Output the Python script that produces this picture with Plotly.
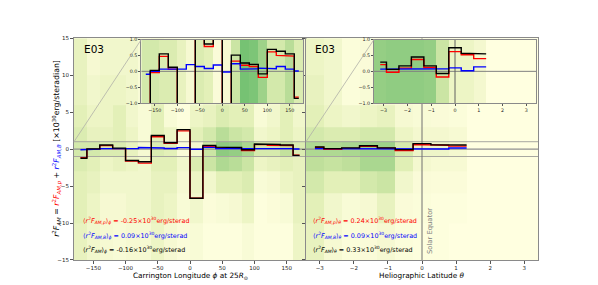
import numpy as np
import plotly.graph_objects as go

W, H = 598, 285

# ---------------- data ----------------
# Carrington longitude bins (centres, degrees)
lon_centers = [-170, -150, -130, -110, -90, -70, -50, -30, -10, 10, 30, 50, 70, 90, 110, 130, 150, 170]
lon_total = [-1.23, 0.03, 0.55, 0.13, -1.54, -1.72, 1.85, 0.86, 2.64, -6.65, 0.51, 0.26, 0.22, -0.08, 0.69, 0.63, 0.55, -0.85]
lon_p     = [-1.15, -0.04, 0.47, 0.07, -1.61, -1.90, 1.68, 0.78, 2.46, -6.64, 0.32, 0.19, 0.15, -0.19, 0.61, 0.50, 0.48, -0.81]
lon_B     = [-0.09, 0.00, 0.07, 0.07, 0.07, 0.21, 0.15, 0.09, 0.20, -0.02, 0.24, 0.07, 0.08, 0.10, 0.08, 0.15, 0.07, 0.01]

# Heliographic latitude bins (centres, radians); last bin empty
lat_centers = [-3.1416, -2.6180, -2.0944, -1.5708, -1.0472, -0.5236, 0.0, 0.5236, 1.0472, 1.5708]
lat_total = [0.29, 0.06, 0.17, 0.45, 0.17, -0.07, 0.74, 0.57, 0.55, None]
lat_p     = [0.21, -0.03, 0.10, 0.37, 0.12, -0.18, 0.62, 0.52, 0.40, None]
lat_B     = [0.07, 0.08, 0.07, 0.07, 0.06, 0.08, 0.11, 0.02, 0.14, None]

# background density (0..1), rows bottom -> top
dens_y_edges = [-15, -10, -6, -3, -1, 1, 3, 6, 10, 15]
lon_density = [
    [0.35, 0.25, 0.20, 0.15, 0.20, 0.20, 0.30, 0.20, 0.10, 0.15, 0.05, 0.05, 0.05, 0.15, 0.05, 0.05, 0.05, 0.30],
    [0.40, 0.30, 0.20, 0.20, 0.25, 0.25, 0.35, 0.30, 0.15, 0.25, 0.10, 0.15, 0.20, 0.30, 0.05, 0.10, 0.15, 0.35],
    [0.40, 0.35, 0.25, 0.25, 0.25, 0.25, 0.35, 0.35, 0.20, 0.30, 0.25, 0.40, 0.40, 0.45, 0.15, 0.20, 0.30, 0.35],
    [0.45, 0.40, 0.30, 0.35, 0.30, 0.25, 0.40, 0.40, 0.25, 0.45, 0.55, 0.70, 0.65, 0.55, 0.30, 0.35, 0.40, 0.35],
    [0.50, 0.50, 0.45, 0.45, 0.35, 0.20, 0.45, 0.40, 0.12, 0.22, 0.55, 0.85, 0.82, 0.72, 0.48, 0.48, 0.60, 0.45],
    [0.45, 0.35, 0.35, 0.40, 0.30, 0.15, 0.40, 0.30, 0.10, 0.40, 0.50, 0.65, 0.55, 0.50, 0.25, 0.30, 0.40, 0.30],
    [0.40, 0.30, 0.30, 0.40, 0.25, 0.15, 0.40, 0.15, 0.05, 0.30, 0.35, 0.45, 0.40, 0.40, 0.15, 0.25, 0.40, 0.25],
    [0.35, 0.25, 0.30, 0.30, 0.25, 0.15, 0.35, 0.15, 0.05, 0.15, 0.25, 0.35, 0.30, 0.35, 0.15, 0.20, 0.35, 0.25],
    [0.35, 0.20, 0.25, 0.25, 0.25, 0.15, 0.25, 0.15, 0.05, 0.15, 0.20, 0.25, 0.25, 0.25, 0.15, 0.20, 0.25, 0.20],
]
lat_density = [
    [0.35, 0.20, 0.08, 0.12, 0.20, 0.08, 0.05, 0.05, 0.00],
    [0.40, 0.25, 0.15, 0.20, 0.35, 0.12, 0.08, 0.05, 0.05],
    [0.50, 0.40, 0.40, 0.50, 0.55, 0.25, 0.12, 0.10, 0.10],
    [0.62, 0.58, 0.62, 0.72, 0.72, 0.42, 0.22, 0.18, 0.18],
    [0.70, 0.70, 0.72, 0.78, 0.78, 0.48, 0.28, 0.28, 0.22],
    [0.50, 0.45, 0.45, 0.50, 0.50, 0.30, 0.22, 0.22, 0.18],
    [0.40, 0.30, 0.25, 0.30, 0.35, 0.20, 0.15, 0.12, 0.08],
    [0.35, 0.25, 0.08, 0.15, 0.20, 0.12, 0.08, 0.08, 0.05],
    [0.30, 0.25, 0.08, 0.12, 0.15, 0.08, 0.05, 0.05, 0.00],
]
lon_density_zoom = [[0.50, 0.50, 0.45, 0.45, 0.35, 0.20, 0.45, 0.40, 0.12, 0.20, 0.55, 0.95, 0.92, 0.78, 0.50, 0.50, 0.65, 0.45]]
lat_density_zoom = [[0.82, 0.84, 0.84, 0.84, 0.82, 0.55, 0.30, 0.30, 0.22]]

lon_ticks = [-150, -100, -50, 0, 50, 100, 150]
lat_ticks = [-3, -2, -1, 0, 1, 2, 3]
main_yticks = [-15, -10, -5, 0, 5, 10, 15]
zoom_yticks = [-1.0, -0.5, 0.0, 0.5, 1.0]

stats_lon = ["-0.25", "0.09", "-0.16"]
stats_lat = ["0.24", "0.09", "0.33"]

# ---------------- helpers ----------------
def mid_step(c, v):
    xs, ys = [], []
    n = len(c)
    for i in range(n):
        if v[i] is None:
            xs.append(None); ys.append(None); continue
        left = c[i] if i == 0 else (c[i - 1] + c[i]) / 2
        right = c[i] if i == n - 1 else (c[i] + c[i + 1]) / 2
        xs += [left, right]; ys += [v[i], v[i]]
    return xs, ys

def edges_from_centers(c):
    c = np.asarray(c, float)
    h = (c[1] - c[0]) / 2
    return list(np.concatenate([c - h, [c[-1] + h]]))

def px(x): return x / W
def py(y): return 1 - y / H

LON_R = [-180, 180]
LAT_R = [-np.pi - np.pi / 12, np.pi + np.pi / 12]
Y_R = [-15, 15]
ZOOM = 1.0

# panel positions (pixels)
MAIN_T, MAIN_B = 36, 262.5
L_X0, L_X1 = 74, 306
R_X0, R_X1 = 306, 538
IN_T, IN_B = 37.3, 102.3
LI_X0, LI_X1 = 141.3, 303.3
RI_X0, RI_X1 = 374, 536

cscale = [[0, '#ffffe0'], [0.2, '#f6f9d2'], [0.4, '#e3f0b8'], [0.6, '#c3e19d'],
          [0.8, '#9ad087'], [1.0, '#6abd6c']]

fig = go.Figure()

def heat(xe, ye, z, xa, ya):
    fig.add_trace(go.Heatmap(x=xe, y=ye, z=z, zmin=0, zmax=1, colorscale=cscale,
                             showscale=False, hoverinfo='skip', xaxis=xa, yaxis=ya))

lon_edges = edges_from_centers(lon_centers)
lat_edges = edges_from_centers(lat_centers[:9])
heat(lon_edges, dens_y_edges, lon_density, 'x', 'y')
heat(lat_edges, dens_y_edges, lat_density, 'x2', 'y2')
heat(lon_edges, [-ZOOM, ZOOM], lon_density_zoom, 'x3', 'y3')
heat(lat_edges, [-ZOOM, ZOOM], lat_density_zoom, 'x4', 'y4')

def line(x, y, xa, ya, color, w):
    fig.add_trace(go.Scatter(x=x, y=y, mode='lines', line=dict(color=color, width=w),
                             xaxis=xa, yaxis=ya, hoverinfo='skip', showlegend=False))

# reference lines
for xa, ya, rng in [('x', 'y', LON_R), ('x2', 'y2', LAT_R)]:
    line(rng, [ZOOM, ZOOM], xa, ya, '#a8a8a0', 1)
    line(rng, [-ZOOM, -ZOOM], xa, ya, '#a8a8a0', 1)
    line(rng, [0, 0], xa, ya, '#909090', 1.2)
line([0, 0], Y_R, 'x2', 'y2', '#707070', 1)
line(LON_R, [0, 0], 'x3', 'y3', '#808080', 1)
line(LAT_R, [0, 0], 'x4', 'y4', '#808080', 1)
line([0, 0], [-ZOOM, ZOOM], 'x4', 'y4', '#606060', 1)

# steps
for xa, ya in [('x', 'y'), ('x3', 'y3')]:
    for vals, col in [(lon_p, '#ff0000'), (lon_B, '#0000ff'), (lon_total, '#000000')]:
        sx, sy = mid_step(lon_centers, vals)
        line(sx, sy, xa, ya, col, 1.4)
for xa, ya in [('x2', 'y2'), ('x4', 'y4')]:
    for vals, col in [(lat_p, '#ff0000'), (lat_B, '#0000ff'), (lat_total, '#000000')]:
        sx, sy = mid_step(lat_centers, vals)
        line(sx, sy, xa, ya, col, 1.4)

FONT = "DejaVu Sans"
ax_common = dict(showline=True, mirror=True, linecolor='#8a8a8a', linewidth=1,
                 showgrid=False, zeroline=False, ticks='outside', tickcolor='#555',
                 tickwidth=0.8)
main_tf = dict(family=FONT, size=5.5, color='#222')
zoom_tf = dict(family=FONT, size=4.8, color='#222')

fig.update_layout(
    width=W, height=H, autosize=False,
    margin=dict(l=0, r=0, t=0, b=0),
    paper_bgcolor='white', plot_bgcolor='#ffffe0',
    showlegend=False,
    xaxis=dict(domain=[px(L_X0), px(L_X1)], range=LON_R, tickvals=lon_ticks, ticklen=3,
               tickfont=main_tf, anchor='y', ticklabelstandoff=-1, **ax_common),
    yaxis=dict(domain=[py(MAIN_B), py(MAIN_T)], range=Y_R, tickvals=main_yticks, ticklen=3,
               tickfont=main_tf, anchor='x', **ax_common),
    xaxis2=dict(domain=[px(R_X0), px(R_X1)], range=LAT_R, tickvals=lat_ticks, ticklen=3,
                tickfont=main_tf, anchor='y2', ticklabelstandoff=-1, **ax_common),
    yaxis2=dict(domain=[py(MAIN_B), py(MAIN_T)], range=Y_R, tickvals=main_yticks, ticklen=3,
                showticklabels=False, anchor='x2', **ax_common),
    xaxis3=dict(domain=[px(LI_X0), px(LI_X1)], range=LON_R, tickvals=lon_ticks, ticklen=2,
                tickfont=zoom_tf, anchor='y3', **ax_common),
    yaxis3=dict(domain=[py(IN_B), py(IN_T)], range=[-ZOOM, ZOOM], tickvals=zoom_yticks,
                tickformat='.1f', ticklen=2, tickfont=zoom_tf, anchor='x3', **ax_common),
    xaxis4=dict(domain=[px(RI_X0), px(RI_X1)], range=LAT_R, tickvals=lat_ticks, ticklen=2,
                tickfont=zoom_tf, anchor='y4', **ax_common),
    yaxis4=dict(domain=[py(IN_B), py(IN_T)], range=[-ZOOM, ZOOM], tickvals=zoom_yticks,
                tickformat='.1f', ticklen=2, tickfont=zoom_tf, anchor='x4', **ax_common),
)

# connector lines (inset corner -> zoom box corner)
def ypaper_main(v):
    d0, d1 = py(MAIN_B), py(MAIN_T)
    return d0 + (v - Y_R[0]) / (Y_R[1] - Y_R[0]) * (d1 - d0)

for x0, xi in [(L_X0, LI_X0), (R_X0, RI_X0)]:
    fig.add_shape(type='line', xref='paper', yref='paper', x0=px(x0), y0=ypaper_main(ZOOM),
                  x1=px(xi), y1=py(IN_T), line=dict(color='#b0b0a8', width=0.8), layer='above')

ann = []
def A(text, x, y, size, color='#000', xanchor='left', angle=0, yanchor='middle'):
    ann.append(dict(text=text, x=x, y=y, xref='paper', yref='paper', showarrow=False,
                    xanchor=xanchor, yanchor=yanchor, textangle=angle,
                    font=dict(family=FONT, size=size, color=color)))

A("E03", px(82), py(47.5), 10.5)
A("E03", px(313), py(47.5), 10.5)

F = "<i>r</i><sup>2</sup><i>F</i><sub><i>{}</i></sub>"
labels = [(F.format("AM,p"), '#ff0000'), (F.format("AM,B"), '#0000ff'), (F.format("AM"), '#000000')]
for (lab, col), sl, sr, yy in zip(labels, stats_lon, stats_lat, [222, 237, 252]):
    A(f"⟨{lab}⟩<sub><i>ϕ</i></sub> = {sl}×10<sup>30</sup>erg/sterad", px(81), py(yy), 6.4, col)
    A(f"⟨{lab}⟩<sub><i>θ</i></sub> = {sr}×10<sup>30</sup>erg/sterad", px(311), py(yy), 6.4, col)

ytitle = (F.format("AM") + " = <span style='color:#ff0000'>" + F.format("AM,p") +
          "</span> + <span style='color:#0000ff'>" + F.format("AM,B") +
          "</span> [×10<sup>30</sup>erg/steradian]")
A(ytitle, px(57), py(149), 7.8, angle=-90, xanchor='center')
A("Carrington Longitude <i>ϕ</i> at 25<i>R</i><sub>⊙</sub>", px(190), py(272), 7.3,
  xanchor='center', yanchor='top')
A("Heliographic Latitude <i>θ</i>", px(422), py(272), 7.3, xanchor='center', yanchor='top')
A("Solar Equator", px(430), py(233), 6.8, color='#808080', angle=-90, xanchor='center')

fig.update_layout(annotations=ann)
fig.write_html("out.html", config={'displayModeBar': False},
               post_script="document.body.style.margin='0';document.body.style.overflow='hidden';")
